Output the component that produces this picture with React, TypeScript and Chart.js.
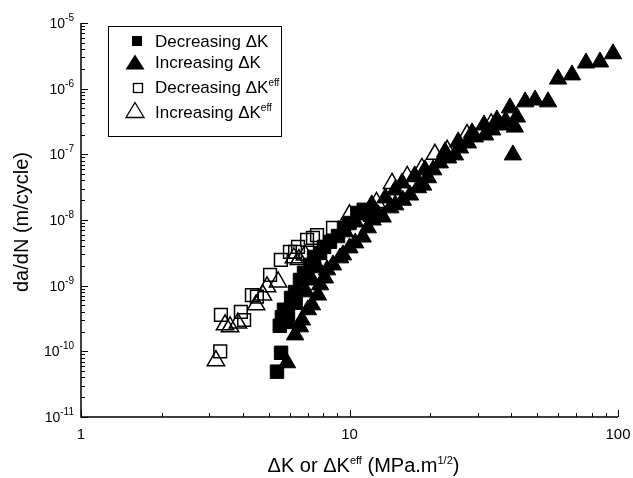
import React, { useEffect, useRef } from 'react';
import { Chart, registerables } from 'chart.js';

Chart.register(...registerables);

// Decreasing ΔK (filled squares)
const DEC_DK_X = [5.37, 5.56, 5.5, 5.85, 5.6, 5.9, 5.7, 6.06, 6.3, 6.27, 6.54, 6.77, 7.13, 7.38, 7.77, 8.04, 8.46, 9.06, 9.54, 10.0, 10.7, 11.3, 11.9];
const DEC_DK_Y = [4.9e-11, 9.5e-11, 2.45e-10, 2.8e-10, 3.3e-10, 3.6e-10, 4.3e-10, 6.5e-10, 5.5e-10, 8.0e-10, 1.22e-9, 1.57e-9, 2.07e-9, 2.74e-9, 3.15e-9, 3.9e-9, 4.65e-9, 5.7e-9, 7.6e-9, 9.0e-9, 1.28e-8, 1.43e-8, 1.2e-8];

// Increasing ΔK (filled triangles)
const INC_DK_X = [5.85, 6.27, 6.54, 6.65, 7.0, 7.25, 7.63, 7.77, 8.1, 8.25, 8.68, 9.22, 9.46, 10.0, 10.5, 11.2, 11.7, 12.2, 12.8, 13.3, 14.2, 14.8, 15.8, 16.8, 18.0, 18.8, 19.6, 20.5, 21.7, 23.3, 24.7, 25.8, 27.6, 29.3, 32.0, 34.0, 36.4, 37.9, 39.6, 41.3, 42.0, 40.6, 45.1, 49.1, 54.9, 59.8, 67.4, 76.0, 85.7, 95.8,
  6.89, 7.25, 7.63, 9.62, 10.5, 11.1, 12.1, 13.6, 14.8, 15.7, 17.5, 19.1, 22.7, 25.4, 28.6, 31.7, 35.4];
const INC_DK_Y = [6.7e-11, 1.78e-10, 2.36e-10, 3.0e-10, 4.3e-10, 5.1e-10, 7.2e-10, 1.03e-9, 1.31e-9, 1.74e-9, 2.07e-9, 2.65e-9, 2.94e-9, 3.76e-9, 4.48e-9, 5.5e-9, 7.6e-9, 1.0e-8, 1.2e-8, 1.11e-8, 1.53e-8, 1.7e-8, 2.0e-8, 2.4e-8, 3.1e-8, 3.4e-8, 4.4e-8, 5.8e-8, 7.4e-8, 8.8e-8, 9.8e-8, 1.25e-7, 1.49e-7, 1.84e-7, 1.97e-7, 2.35e-7, 2.8e-7, 3.1e-7, 5.1e-7, 2.6e-7, 3.7e-7, 9.8e-8, 6.3e-7, 6.7e-7, 6.3e-7, 1.4e-6, 1.62e-6, 2.46e-6, 2.55e-6, 3.4e-6,
  8.05e-10, 1.22e-9, 1.87e-9, 6.6e-9, 9.35e-9, 1.2e-8, 1.7e-8, 2.17e-8, 2.87e-8, 3.67e-8, 4.7e-8, 5.8e-8, 1.09e-7, 1.55e-7, 2.12e-7, 2.8e-7, 3.34e-7];

// Decreasing ΔKeff (open squares)
const DEC_EFF_X = [3.3, 3.32, 3.94, 4.05, 4.33, 4.52, 5.06, 5.55, 6.0, 6.27, 6.43, 6.95, 7.31, 7.57, 8.68];
const DEC_EFF_Y = [1.0e-10, 3.6e-10, 4.0e-10, 3.0e-10, 7.2e-10, 6.8e-10, 1.46e-9, 2.47e-9, 3.27e-9, 3.27e-9, 3.9e-9, 4.98e-9, 5.35e-9, 5.9e-9, 7.6e-9];

// Increasing ΔKeff (open triangles)
const INC_EFF_X = [3.18, 3.44, 3.59, 3.84, 4.49, 4.76, 4.93, 5.42, 6.21, 6.48, 6.83, 10.0, 12.6, 14.4, 16.4, 18.6, 20.8, 23.1, 27.4, 33.7, 38.6];
const INC_EFF_Y = [7.2e-11, 2.53e-10, 2.36e-10, 2.7e-10, 5.1e-10, 7.2e-10, 9.6e-10, 1.14e-9, 2.65e-9, 2.5e-9, 2.94e-9, 1.2e-8, 1.85e-8, 3.6e-8, 4.6e-8, 6.1e-8, 1.0e-7, 1.15e-7, 2.0e-7, 2.9e-7, 2.9e-7];

const X_TICKS = [1, 10, 100];
const X_TICK_LABELS = ['1', '10', '100'];
const Y_TICK_EXPONENTS = [-11, -10, -9, -8, -7, -6, -5];

const SERIES_NAMES = ['Decreasing ΔK', 'Increasing ΔK', 'Decreasing ΔK', 'Increasing ΔK'];
const SERIES_SUPS = ['', '', 'eff', 'eff'];

const FONT = '"Liberation Sans", Arial, Helvetica, sans-serif';

type Part = { t: string; sup?: boolean };

function toPoints(xs: number[], ys: number[]) {
  return xs.map((x, i) => ({ x, y: ys[i] }));
}

function drawRich(
  ctx: CanvasRenderingContext2D,
  parts: Part[],
  x: number,
  y: number,
  align: 'left' | 'center' | 'right',
  size: number,
  supSize: number,
  supRise: number
) {
  ctx.save();
  ctx.textAlign = 'left';
  ctx.textBaseline = 'alphabetic';
  ctx.fillStyle = '#000';
  const widths = parts.map((p) => {
    ctx.font = `${p.sup ? supSize : size}px ${FONT}`;
    return ctx.measureText(p.t).width;
  });
  const total = widths.reduce((a, b) => a + b, 0);
  let cx = align === 'left' ? x : align === 'center' ? x - total / 2 : x - total;
  parts.forEach((p, i) => {
    ctx.font = `${p.sup ? supSize : size}px ${FONT}`;
    ctx.fillText(p.t, cx, p.sup ? y - supRise : y);
    cx += widths[i];
  });
  ctx.restore();
}

function triPath(ctx: CanvasRenderingContext2D, cx: number, cy: number, w: number, h: number) {
  ctx.beginPath();
  ctx.moveTo(cx, cy - h / 2);
  ctx.lineTo(cx + w / 2, cy + h / 2);
  ctx.lineTo(cx - w / 2, cy + h / 2);
  ctx.closePath();
}

const axesPlugin = {
  id: 'customAxes',
  afterDatasetsDraw(chart: any) {
    const ctx: CanvasRenderingContext2D = chart.ctx;
    const xs = chart.scales.x;
    const ys = chart.scales.y;
    const left = xs.getPixelForValue(1);
    const right = xs.getPixelForValue(100);
    const bottom = ys.getPixelForValue(1e-11);
    const top = ys.getPixelForValue(1e-5);
    ctx.save();
    ctx.strokeStyle = '#000';
    ctx.lineWidth = 1.5;
    ctx.beginPath();
    ctx.moveTo(left, top);
    ctx.lineTo(left, bottom);
    ctx.lineTo(right, bottom);
    ctx.stroke();

    // y ticks
    ctx.lineWidth = 1;
    ctx.beginPath();
    for (let e = -11; e <= -5; e++) {
      const p = Math.round(ys.getPixelForValue(Math.pow(10, e))) + 0.5;
      ctx.moveTo(left, p);
      ctx.lineTo(left + 7, p);
      if (e < -5) {
        for (let m = 2; m <= 9; m++) {
          const q = Math.round(ys.getPixelForValue(m * Math.pow(10, e))) + 0.5;
          ctx.moveTo(left, q);
          ctx.lineTo(left + 4, q);
        }
      }
    }
    // x ticks
    for (let d = 0; d <= 2; d++) {
      const p = Math.round(xs.getPixelForValue(Math.pow(10, d))) + 0.5;
      ctx.moveTo(p, bottom);
      ctx.lineTo(p, bottom - 7);
      if (d < 2) {
        for (let m = 2; m <= 9; m++) {
          const q = Math.round(xs.getPixelForValue(m * Math.pow(10, d))) + 0.5;
          ctx.moveTo(q, bottom);
          ctx.lineTo(q, bottom - 4);
        }
      }
    }
    ctx.stroke();

    // y tick labels
    Y_TICK_EXPONENTS.forEach((e) => {
      const p = ys.getPixelForValue(Math.pow(10, e));
      drawRich(ctx, [{ t: '10' }, { t: String(e), sup: true }], left - 7, p + 5, 'right', 14, 10, 7);
    });
    // x tick labels
    X_TICKS.forEach((v, i) => {
      const p = xs.getPixelForValue(v);
      drawRich(ctx, [{ t: X_TICK_LABELS[i] }], p, bottom + 22, 'center', 15, 10, 0);
    });

    // x title
    drawRich(
      ctx,
      [
        { t: 'ΔK or ΔK' },
        { t: 'eff', sup: true },
        { t: ' (MPa.m' },
        { t: '1/2', sup: true },
        { t: ')' },
      ],
      (left + right) / 2 + 14,
      472,
      'center',
      20,
      11,
      8
    );

    // y title
    ctx.save();
    ctx.translate(28, (top + bottom) / 2 + 2);
    ctx.rotate(-Math.PI / 2);
    drawRich(ctx, [{ t: 'da/dN (m/cycle)' }], 0, 0, 'center', 20, 12, 0);
    ctx.restore();

    // legend
    ctx.lineWidth = 1;
    ctx.strokeStyle = '#000';
    ctx.strokeRect(108.5, 26.5, 173, 110);
    const rowsY = [47, 68, 93, 118];
    const markerY = [41, 62, 88, 110];
    ctx.fillStyle = '#000';
    ctx.fillRect(132, markerY[0] - 5, 10, 10);
    triPath(ctx, 135, markerY[1], 19, 15);
    ctx.fill();
    ctx.lineWidth = 1.3;
    ctx.strokeRect(133.5, markerY[2] - 4.5, 9, 9);
    triPath(ctx, 135, markerY[3], 18, 15);
    ctx.stroke();
    SERIES_NAMES.forEach((n, i) => {
      const parts: Part[] = [{ t: n }];
      if (SERIES_SUPS[i]) parts.push({ t: SERIES_SUPS[i], sup: true });
      drawRich(ctx, parts, 155, rowsY[i], 'left', 17, 10, 7);
    });
    ctx.restore();
  },
};

export default function App() {
  const ref = useRef<HTMLCanvasElement | null>(null);
  useEffect(() => {
    if (!ref.current) return;
    const chart = new Chart(ref.current, {
      type: 'scatter',
      data: {
        datasets: [
          {
            label: 'Decreasing ΔK',
            data: toPoints(DEC_DK_X, DEC_DK_Y),
            pointStyle: 'rect',
            pointRadius: 9.5,
            backgroundColor: '#000',
            borderColor: '#000',
            borderWidth: 1,
          },
          {
            label: 'Increasing ΔK',
            data: toPoints(INC_DK_X, INC_DK_Y),
            pointStyle: 'triangle',
            pointRadius: 10,
            backgroundColor: '#000',
            borderColor: '#000',
            borderWidth: 1,
          },
          {
            label: 'Decreasing ΔKeff',
            data: toPoints(DEC_EFF_X, DEC_EFF_Y),
            pointStyle: 'rect',
            pointRadius: 9,
            backgroundColor: 'rgba(0,0,0,0)',
            borderColor: '#000',
            borderWidth: 1.5,
          },
          {
            label: 'Increasing ΔKeff',
            data: toPoints(INC_EFF_X, INC_EFF_Y),
            pointStyle: 'triangle',
            pointRadius: 10,
            backgroundColor: 'rgba(0,0,0,0)',
            borderColor: '#000',
            borderWidth: 1.5,
          },
        ],
      },
      options: {
        animation: false,
        responsive: false,
        events: [],
        layout: { padding: { left: 81, right: 15, top: 23, bottom: 61 } },
        scales: {
          x: { type: 'logarithmic', min: 1, max: 100, display: false },
          y: { type: 'logarithmic', min: 1e-11, max: 1e-5, display: false },
        },
        plugins: { legend: { display: false }, tooltip: { enabled: false } },
        datasets: { scatter: { clip: false } } as any,
      } as any,
      plugins: [axesPlugin],
    });
    return () => chart.destroy();
  }, []);
  return (
    <div style={{ position: 'absolute', left: 0, top: 0, width: 633, height: 478, background: '#fff' }}>
      <canvas ref={ref} width={633} height={478} style={{ display: 'block' }} />
    </div>
  );
}
